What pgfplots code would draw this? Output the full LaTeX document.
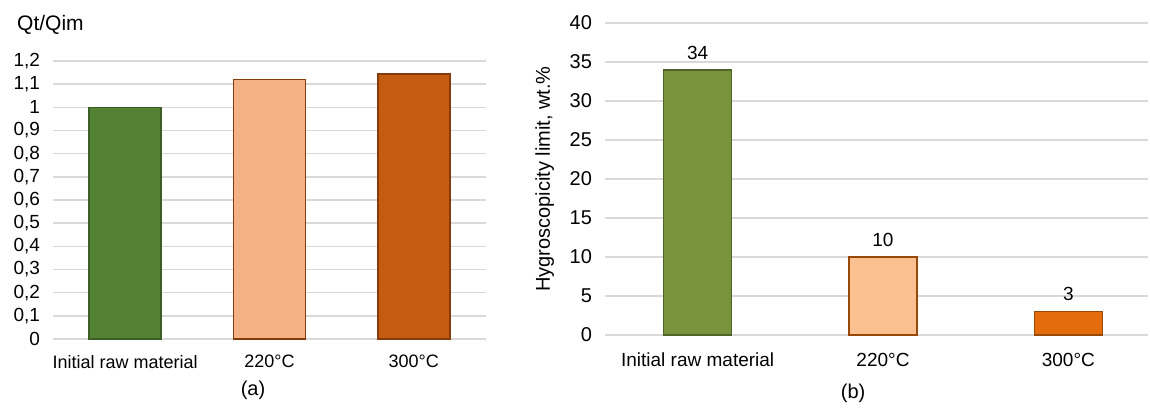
\documentclass[border=0pt]{standalone}
\usepackage{fontspec}
\setmainfont{Liberation Sans}
\usepackage{pgfplots}
\pgfplotsset{compat=1.18}
\definecolor{gA}{HTML}{548235}
\definecolor{gAe}{HTML}{3B5E25}
\definecolor{pA}{HTML}{F4B183}
\definecolor{oA}{HTML}{C55A11}
\definecolor{brA}{HTML}{843C0C}
\definecolor{gB}{HTML}{77933C}
\definecolor{gBe}{HTML}{4F6228}
\definecolor{pB}{HTML}{FAC090}
\definecolor{oB}{HTML}{E46C0A}
\definecolor{brB}{HTML}{984807}
\definecolor{grd}{HTML}{D9D9D9}
\begin{document}
\begin{tikzpicture}[x=1pt,y=1pt]
\pgfplotsset{
  common/.style={
    scale only axis,
    anchor=south west,
    clip=false,
    axis line style={draw=none},
    tick style={draw=none},
    major tick length=0pt,
    ymajorgrids,
    grid style={grd, line width=0.8pt},
    xtick={0,1,2},
    xmin=-0.5,
    ymin=0,
    enlarge y limits=false,
    /pgf/number format/assume math mode=true,
    /pgf/number format/use comma,
    /pgf/number format/1000 sep={},
  }
}
% ---------- panel (a)
\begin{axis}[common,
  at={(26.5pt,34pt)},
  width=216.5pt, height=139pt,
  xmax=2.5,
  ymax=1.2,
  ytick={0,0.1,...,1.2},
  xticklabels={Initial raw material,220°C,300°C},
  xticklabel style={font=\fontsize{9}{11}\selectfont, yshift=-4.5pt},
  yticklabel style={font=\fontsize{9.5}{11}\selectfont, xshift=-3pt},
  bar width=36pt,
]
\addplot[ybar, fill=gA, draw=gAe, line width=0.8pt] coordinates {(0,1.0)};
\addplot[ybar, fill=pA, draw=brA, line width=0.8pt] coordinates {(1,1.12)};
\addplot[ybar, fill=oA, draw=brA, line width=0.8pt] coordinates {(2,1.145)};
\node[anchor=west, font=\fontsize{10.5}{12}\selectfont] at (rel axis cs:-0.099,1.13) {Qt/Qim};
\node[font=\fontsize{10}{12}\selectfont] at (rel axis cs:0.462,-0.183) {(a)};
\end{axis}
% ---------- panel (b)
\begin{axis}[common,
  at={(302.5pt,36pt)},
  width=271.5pt, height=156pt,
  xmax=2.43,
  ymax=40,
  ytick={0,5,...,40},
  xticklabels={Initial raw material,220°C,300°C},
  xticklabel style={font=\fontsize{9.5}{11}\selectfont, yshift=-5.5pt},
  yticklabel style={font=\fontsize{10}{12}\selectfont, xshift=-3pt},
  ylabel={Hygroscopicity limit, wt.\%},
  ylabel style={font=\fontsize{10}{12}\selectfont, at={(rel axis cs:-0.111,0.5)}, anchor=center},
  bar width=34pt,
  nodes near coords,
  nodes near coords style={font=\fontsize{9.5}{11}\selectfont, yshift=1.5pt},
]
\addplot[ybar, fill=gB, draw=gBe, line width=0.8pt] coordinates {(0,34)};
\addplot[ybar, fill=pB, draw=brB, line width=0.8pt] coordinates {(1,10)};
\addplot[ybar, fill=oB, draw=brB, line width=0.8pt] coordinates {(2,3)};
\node[font=\fontsize{10}{12}\selectfont] at (rel axis cs:0.457,-0.186) {(b)};
\end{axis}
\pgfresetboundingbox
\path (0,0) rectangle (575pt,203.5pt);
\end{tikzpicture}
\end{document}
